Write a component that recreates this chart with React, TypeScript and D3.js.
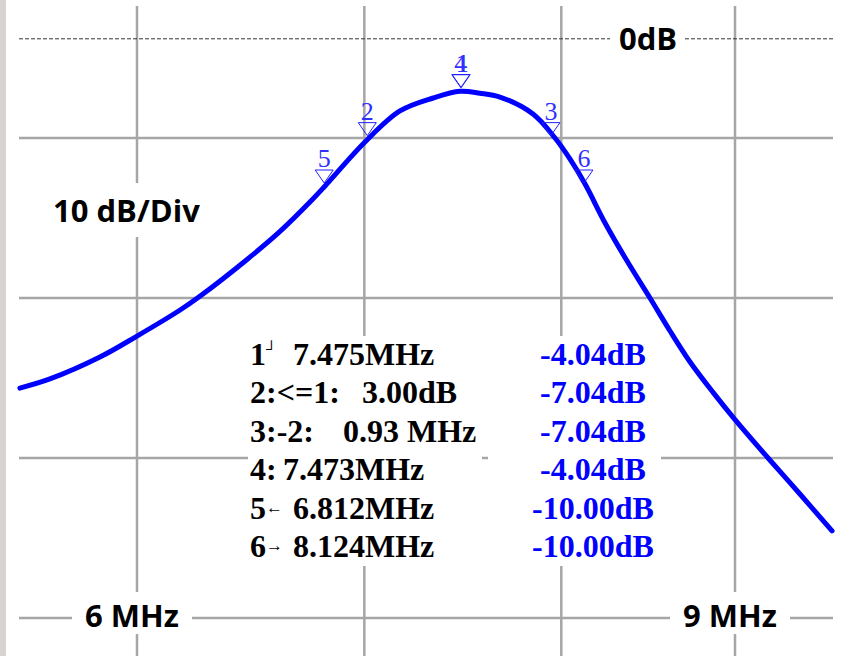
import * as d3 from 'd3'

// trace readout (frequency in MHz, gain in dB)
const freqMHz = [5.542, 5.656, 5.851, 6.0, 6.178, 6.257, 6.465, 6.611, 6.761, 6.816, 7.003, 7.171, 7.334, 7.469, 7.57, 7.674, 7.848, 7.966, 8.047, 8.13, 8.241, 8.365, 8.496, 8.612, 8.73, 8.867, 9.0, 9.204, 9.405, 9.612]
const gainDb = [-22.63, -22.06, -20.69, -19.38, -17.75, -16.94, -14.59, -12.84, -10.8, -10.0, -7.25, -5.31, -4.5, -4.08, -4.2, -4.44, -5.5, -7.0, -8.31, -9.88, -12.31, -14.69, -17.0, -19.06, -21.0, -22.9, -24.6, -27.0, -29.25, -31.56]

// markers
const markerIds = ['1', '4', '2', '3', '5', '6']
const markerFreq = [7.475, 7.473, 7.014, 7.944, 6.812, 8.124]
const markerDb = [-4.04, -4.04, -7.04, -7.04, -10.0, -10.0]

// graticule
const gridFreq = [6, 7, 8, 9]
const gridDb = [-7, -17, -27, -37]
const refDb = -0.8
const freqLabels = ['6 MHz', '9 MHz']
const freqLabelAt = [6, 9]

// marker table
const tablePrefix = ['1', '2:<=1:', '3:-2:', '4:', '5', '6']
const tableSymbol = ['┘', '', '', '', '←', '→']
const tableValue = ['7.475MHz', '3.00dB', '0.93 MHz', '7.473MHz', '6.812MHz', '8.124MHz']
const tableValueX = [293, 362, 343, 283, 293, 293]
const tableLevel = ['-4.04dB', '-7.04dB', '-7.04dB', '-4.04dB', '-10.00dB', '-10.00dB']

const W = 843
const H = 656
const left = 19
const right = 833
const GRID = '#a6a6a6'
const BLUE = '#0000ff'
const LABEL_FONT = '"Open Sans", sans-serif'
const SERIF = '"Liberation Serif", "Times New Roman", serif'

export default function App() {
  const x = d3.scaleLog().domain([6, 9]).range([137, 735])
  const y = d3.scaleLinear().domain([0, -40]).range([26, 666])

  const line = d3
    .line<number>()
    .x((_, i) => x(freqMHz[i]))
    .y(d => y(d))
    .curve(d3.curveCatmullRom.alpha(0.5))

  const refY = y(refDb)
  const bottomY = y(gridDb[gridDb.length - 1])

  return (
    <svg
      width={W}
      height={H}
      style={{ position: 'absolute', left: 0, top: 0, background: '#fff' }}
    >
      <rect x={0} y={0} width={6} height={H} fill="#d9d4d0" />

      {/* vertical grid */}
      {gridFreq.map(f => (
        <line key={'v' + f} x1={x(f)} x2={x(f)} y1={6} y2={H} stroke={GRID} strokeWidth={2.5} />
      ))}

      {/* horizontal grid */}
      {gridDb.map(d => (
        <line key={'h' + d} x1={left} x2={right} y1={y(d)} y2={y(d)} stroke={GRID} strokeWidth={2.5} />
      ))}

      {/* 0 dB reference */}
      <line x1={left} x2={right} y1={refY} y2={refY} stroke="#333" strokeWidth={1} strokeDasharray="4 2" />
      <rect x={610} y={refY - 20} width={75} height={40} fill="#fff" />
      <text x={648} y={50} textAnchor="middle" fontFamily={LABEL_FONT} fontWeight={700} fontSize={31} fill="#000">
        0dB
      </text>

      {/* scale label */}
      <rect x={45} y={183} width={165} height={54} fill="#fff" />
      <text x={53} y={222} fontFamily={LABEL_FONT} fontWeight={700} fontSize={31} fill="#000">
        10 dB/Div
      </text>

      {/* frequency labels */}
      {freqLabels.map((t, i) => {
        const cx = x(freqLabelAt[i]) - 5
        return (
          <g key={t}>
            <rect x={cx - 60} y={bottomY - 26} width={120} height={42} fill="#fff" />
            <text x={cx} y={627} textAnchor="middle" fontFamily={LABEL_FONT} fontWeight={700} fontSize={31} fill="#000">
              {t}
            </text>
          </g>
        )
      })}

      {/* trace */}
      <path d={line(gainDb) || ''} fill="none" stroke={BLUE} strokeWidth={5} strokeLinejoin="round" strokeLinecap="round" />

      {/* markers */}
      {markerIds.map((id, i) => {
        const mx = x(markerFreq[i])
        const my = y(markerDb[i]) - 3
        return (
          <g key={'m' + id}>
            <path
              d={`M${mx},${my} L${mx - 9},${my - 13} L${mx + 9},${my - 13} Z`}
              fill="none"
              stroke="#2020ff"
              strokeWidth={1}
            />
            <text
              x={mx + (id === '1' ? 1 : 0)}
              y={my - 16}
              textAnchor="middle"
              fontFamily={SERIF}
              fontSize={26}
              fill="#3030ff"
            >
              {id}
            </text>
          </g>
        )
      })}

      {/* marker table */}
      <rect x={248} y={336} width={234} height={230} fill="#fff" />
      <rect x={488} y={336} width={173} height={230} fill="#fff" />
      {tablePrefix.map((p, i) => {
        const by = 365 + i * 38.4
        return (
          <g key={'row' + i} fontFamily={SERIF} fontWeight={700} fontSize={32}>
            <text x={250} y={by} fill="#000" style={{ whiteSpace: 'pre' }}>
              {p}
              {tableSymbol[i] && (
                <tspan fontSize={i === 0 ? 15 : 17} fontWeight={400} dy={i === 0 ? -11 : -6}>
                  {tableSymbol[i]}
                </tspan>
              )}
            </text>
            <text x={tableValueX[i]} y={by} fill="#000">
              {tableValue[i]}
            </text>
            <text x={593} y={by} textAnchor="middle" fill={BLUE}>
              {tableLevel[i]}
            </text>
          </g>
        )
      })}
    </svg>
  )
}
